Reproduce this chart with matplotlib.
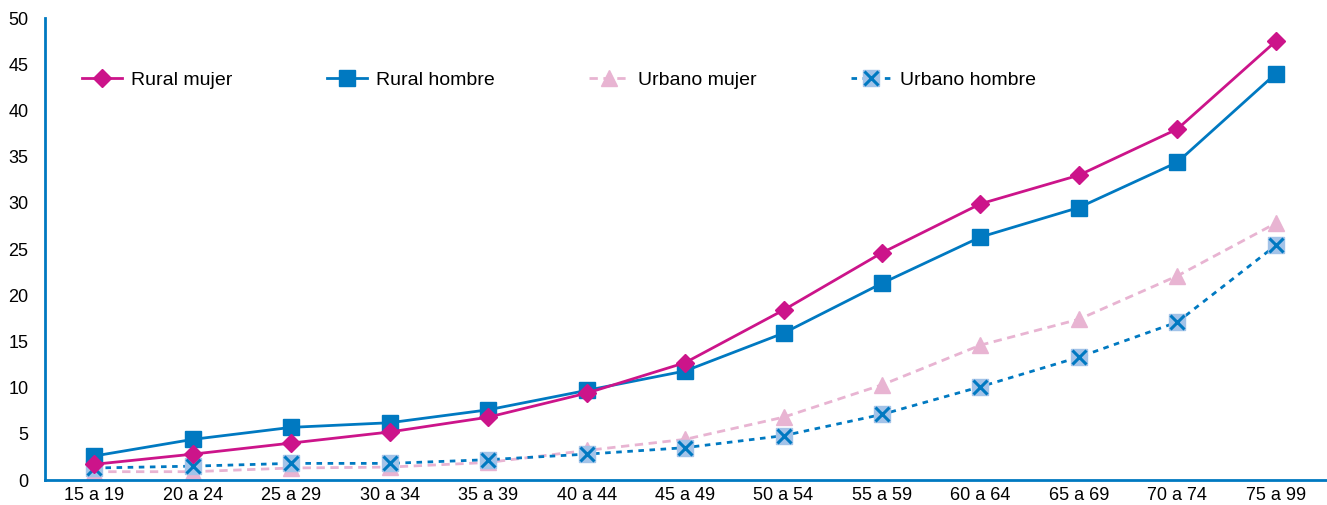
import numpy as np
import matplotlib
matplotlib.use("Agg")
import matplotlib.pyplot as plt

plt.rcParams['font.family'] = ['Liberation Sans', 'DejaVu Sans']

grupos = ['15 a 19', '20 a 24', '25 a 29', '30 a 34', '35 a 39', '40 a 44', '45 a 49',
          '50 a 54', '55 a 59', '60 a 64', '65 a 69', '70 a 74', '75 a 99']
rural_mujer = [1.7, 2.8, 4.0, 5.2, 6.8, 9.4, 12.7, 18.4, 24.6, 29.9, 33.0, 38.0, 47.5]
rural_hombre = [2.6, 4.4, 5.7, 6.2, 7.6, 9.7, 11.8, 15.9, 21.3, 26.3, 29.5, 34.4, 44.0]
urbano_mujer = [0.9, 0.9, 1.3, 1.4, 1.9, 3.2, 4.4, 6.8, 10.3, 14.6, 17.4, 22.1, 27.8]
urbano_hombre = [1.3, 1.5, 1.8, 1.8, 2.2, 2.8, 3.5, 4.8, 7.1, 10.1, 13.3, 17.1, 25.4]

magenta = '#CC148A'
azul = '#0079C1'
rosa = '#E8B4D2'
celeste = '#A3C3E8'

x = np.arange(len(grupos))

fig = plt.figure(figsize=(13.27, 5.05), dpi=100)
ax = fig.add_axes([0.034, 0.0495, 0.966, 0.9145])

h1, = ax.plot(x, rural_mujer, color=magenta, lw=2, marker='D', ms=9, zorder=4)
h2, = ax.plot(x, rural_hombre, color=azul, lw=2, marker='s', ms=12, zorder=3)
h3, = ax.plot(x, urbano_mujer, color=rosa, lw=2, ls=(0, (3, 2)), marker='^', ms=11,
              zorder=2)
h4a, = ax.plot(x, urbano_hombre, color=azul, lw=2, ls=(0, (2, 2)), marker='s', ms=12,
               mfc=celeste, mec=celeste, zorder=2.5)
h4b, = ax.plot(x, urbano_hombre, ls='none', marker='x', ms=10, mew=2.2, color=azul,
               zorder=2.6)

ax.legend([h1, h2, h3, (h4a, h4b)], ['Rural mujer', 'Rural hombre', 'Urbano mujer',
          'Urbano hombre'], ncol=4, frameon=False, loc='center left',
          bbox_to_anchor=(0.029, 0.866), borderaxespad=0, borderpad=0,
          fontsize=14, columnspacing=4.85, handlelength=2.06, handletextpad=0.46)

ax.set_xlim(-0.5, 12.52)
ax.set_ylim(0, 50)
ax.set_yticks(range(0, 51, 5))
ax.set_xticks(x)
ax.set_xticklabels(grupos)
ax.tick_params(length=0, labelsize=13, pad=5)
ax.tick_params(axis='y', pad=12)
for s in ['top', 'right']:
    ax.spines[s].set_visible(False)
for s in ['left', 'bottom']:
    ax.spines[s].set_color(azul)
    ax.spines[s].set_linewidth(2)

fig.savefig('out.png', dpi=100)
